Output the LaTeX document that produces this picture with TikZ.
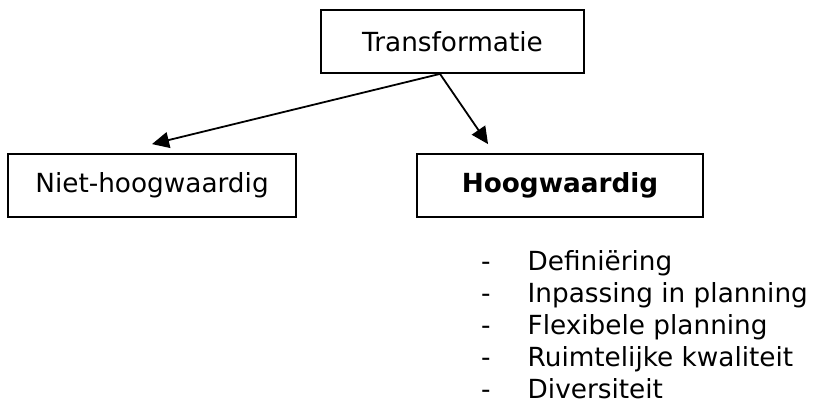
\documentclass[tikz,border=0pt]{standalone}
\usepackage{fontspec}
\setmainfont{DejaVu Sans}
\usetikzlibrary{arrows.meta, positioning, calc}
\tikzset{
    basefont/.style={font=\fontsize{26.3}{32}\selectfont},
    topbox/.style={rectangle, draw, line width=1.8pt, minimum width=263pt, minimum height=63pt, inner sep=0pt, basefont},
    leafbox/.style={rectangle, draw, line width=1.8pt, minimum width=288pt, minimum height=63pt, inner sep=0pt, basefont},
    listitem/.style={anchor=base west, inner sep=0pt, basefont}
}
\begin{document}
\begin{tikzpicture}[x=1pt, y=-1pt, >={Triangle[length=17pt, width=16pt]}]
\useasboundingbox (0,0) rectangle (816,405);
\node[topbox] (trans) at (452.5,41.5) {Transformatie};
\node[leafbox] (niet) at (152,185.5) {Niet-hoogwaardig};
\node[leafbox, minimum width=286pt] (hoog) at (560,185.5) {\bfseries Hoogwaardig};
\coordinate (split) at ([xshift=-12.5pt]trans.south);
\coordinate (nietin) at ([yshift=9pt]niet.north);
\coordinate (hooglin) at ($(hoog.north west)!0.25!(hoog.north east)+(0,-9)$);
\draw[->, line width=1.8pt] (split) -- (nietin);
\draw[->, line width=1.8pt] (split) -- (hooglin);
\foreach \t [count=\i] in {Definiëring, Inpassing in planning, Flexibele planning, Ruimtelijke kwaliteit, Diversiteit} {
    \node[listitem] (dash\i) at (481,238+32*\i) {-};
    \node[listitem] (item\i) at (527.5,238+32*\i) {\t};
}
\end{tikzpicture}
\end{document}
